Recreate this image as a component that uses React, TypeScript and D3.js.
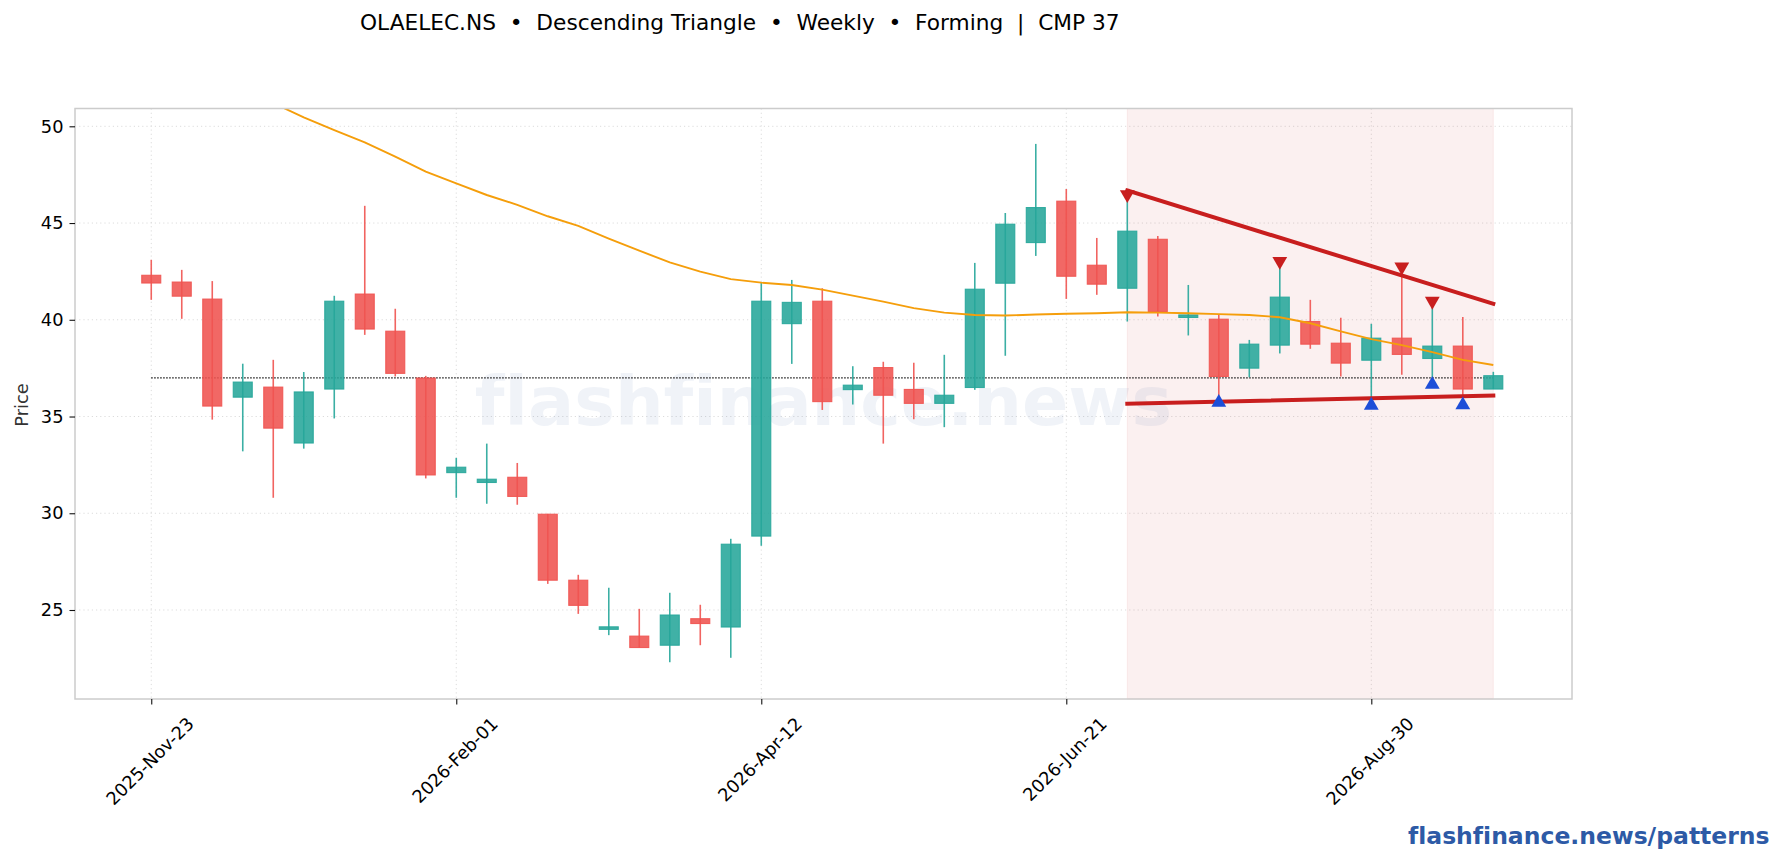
import { useEffect, useRef } from 'react';
import * as d3 from 'd3';

const title = 'OLAELEC.NS  •  Descending Triangle  •  Weekly  •  Forming  |  CMP 37';
const watermark = 'flashfinance.news';
const siteLabel = 'flashfinance.news/patterns';
const yTickValues = [25, 30, 35, 40, 45, 50];
const xTickPositions = [0, 10, 20, 30, 40];
const xTickLabels = ['2025-Nov-23', '2026-Feb-01', '2026-Apr-12', '2026-Jun-21', '2026-Aug-30'];

// weekly OHLC, one entry per bar
const opens = [42.3, 41.95, 41.07, 36.0, 36.52, 33.63, 36.42, 41.33, 39.41, 36.99, 32.1, 31.59, 31.86, 29.95, 26.54, 24.0, 23.65, 23.18, 24.55, 24.12, 28.82, 39.8, 40.96, 36.39, 37.53, 36.4, 35.68, 36.5, 41.89, 43.99, 46.13, 42.82, 41.63, 44.16, 40.12, 40.03, 37.5, 38.69, 39.91, 38.79, 37.91, 39.05, 38.0, 38.64, 36.42];
const highs = [43.1, 42.58, 42.0, 37.73, 37.93, 37.3, 41.24, 45.89, 40.57, 37.1, 32.86, 33.6, 32.6, 29.97, 26.82, 26.15, 25.06, 25.89, 25.27, 28.68, 41.9, 42.06, 41.63, 37.6, 37.83, 37.78, 38.19, 42.94, 45.52, 49.09, 46.76, 44.23, 46.4, 44.33, 41.8, 40.25, 38.96, 42.8, 41.03, 40.1, 39.79, 42.5, 40.75, 40.15, 37.31];
const lows = [41.03, 40.05, 34.84, 33.2, 30.8, 33.34, 34.9, 39.22, 37.07, 31.8, 30.8, 30.49, 30.44, 26.35, 24.8, 23.7, 23.06, 22.3, 23.18, 22.53, 28.32, 37.72, 35.34, 35.62, 33.6, 34.86, 34.45, 36.38, 38.14, 43.3, 41.08, 41.29, 39.91, 40.17, 39.19, 36.0, 37.03, 38.26, 38.5, 37.07, 35.9, 37.16, 37.0, 35.95, 36.42];
const closes = [41.9, 41.22, 35.54, 36.78, 34.4, 36.27, 40.96, 39.52, 37.23, 31.98, 32.38, 31.76, 30.87, 26.54, 25.24, 24.13, 23.06, 24.74, 24.3, 28.4, 40.96, 40.9, 35.77, 36.62, 36.1, 35.68, 36.1, 41.58, 44.94, 45.8, 42.25, 41.84, 44.58, 40.43, 40.25, 37.07, 38.74, 41.17, 38.74, 37.76, 39.05, 38.21, 38.64, 36.42, 37.11];

// moving average, bars 0-3 sit above the visible range
const maValues = [null, null, null, null, 51.2, 50.46, 49.8, 49.17, 48.43, 47.66, 47.05, 46.45, 45.94, 45.35, 44.85, 44.2, 43.57, 42.97, 42.49, 42.1, 41.92, 41.8, 41.56, 41.25, 40.94, 40.6, 40.37, 40.25, 40.22, 40.27, 40.31, 40.34, 40.39, 40.37, 40.34, 40.29, 40.25, 40.13, 39.82, 39.4, 39.0, 38.69, 38.33, 37.93, 37.66];

const cmp = 37;
const patternStart = 32;
const patternEnd = 44;
const upperTrend: [number, number][] = [[32, 46.68], [44, 40.83]];
const lowerTrend: [number, number][] = [[32, 35.66], [44, 36.09]];
const swingHighs: [number, number][] = [[32, 46.37], [37, 42.92], [41, 42.63], [42, 40.86]];
const swingLows: [number, number][] = [[35, 35.83], [40, 35.68], [42, 36.76], [43, 35.7]];

const UP = '#26a69a';
const DOWN = '#ef5350';
const TREND = '#c81e1e';
const FONT = '"DejaVu Sans", sans-serif';

const App = () => {
    const svgRef = useRef<SVGSVGElement>(null);

    useEffect(() => {
        if (!svgRef.current) return;

        const svg = d3.select(svgRef.current);
        svg.selectAll('*').remove();
        svg.attr('width', 1782).attr('height', 860);

        const left = 75, right = 1572, top = 108.5, bottom = 699;

        const x = d3.scaleLinear().domain([-2.5, 46.58]).range([left, right]);
        const y = d3.scaleLinear().domain([20.4, 50.92]).range([bottom, top]);

        svg.append('defs').append('clipPath').attr('id', 'plot')
            .append('rect')
            .attr('x', left).attr('y', top)
            .attr('width', right - left).attr('height', bottom - top);

        // Grid lines
        svg.append('g').selectAll('line').data(xTickPositions).join('line')
            .attr('x1', d => x(d)).attr('x2', d => x(d))
            .attr('y1', top).attr('y2', bottom)
            .attr('stroke', '#dcdcdc').attr('stroke-width', 1).attr('stroke-dasharray', '1.2,3');
        svg.append('g').selectAll('line').data(yTickValues).join('line')
            .attr('x1', left).attr('x2', right)
            .attr('y1', d => y(d)).attr('y2', d => y(d))
            .attr('stroke', '#dcdcdc').attr('stroke-width', 1).attr('stroke-dasharray', '1.2,3');

        // Pattern window
        svg.append('rect')
            .attr('x', x(patternStart)).attr('y', top)
            .attr('width', x(patternEnd) - x(patternStart)).attr('height', bottom - top)
            .attr('fill', '#c62828').attr('fill-opacity', 0.07)
            .attr('stroke', '#c62828').attr('stroke-opacity', 0.07);

        // Watermark
        svg.append('text')
            .attr('x', (left + right) / 2).attr('y', 425)
            .attr('text-anchor', 'middle')
            .style('font-family', FONT).style('font-weight', 'bold').style('font-size', '68.4px')
            .style('font-variant-ligatures', 'none')
            .attr('fill', '#2a5298').attr('fill-opacity', 0.07)
            .text(watermark);

        // CMP level
        svg.append('line')
            .attr('x1', x(0)).attr('x2', x(patternEnd))
            .attr('y1', y(cmp)).attr('y2', y(cmp))
            .attr('stroke', '#000').attr('stroke-width', 1.3).attr('stroke-dasharray', '1.4,1.6');

        // Candles
        const bodyWidth = 19;
        const candles = svg.append('g').selectAll('g').data(d3.range(opens.length)).join('g');
        candles.append('line')
            .attr('x1', d => x(d)).attr('x2', d => x(d))
            .attr('y1', d => y(highs[d])).attr('y2', d => y(lows[d]))
            .attr('stroke', d => (closes[d] >= opens[d] ? UP : DOWN))
            .attr('stroke-opacity', 0.9)
            .attr('stroke-width', 1.6);
        candles.append('rect')
            .attr('x', d => x(d) - bodyWidth / 2)
            .attr('width', bodyWidth)
            .attr('y', d => y(Math.max(opens[d], closes[d])))
            .attr('height', d => Math.abs(y(opens[d]) - y(closes[d])))
            .attr('fill', d => (closes[d] >= opens[d] ? UP : DOWN))
            .attr('fill-opacity', 0.88)
            .attr('stroke', d => (closes[d] >= opens[d] ? UP : DOWN))
            .attr('stroke-opacity', 0.9)
            .attr('stroke-width', 1.1);

        // Moving average
        const maLine = d3.line<number | null>()
            .defined(d => d !== null)
            .x((_, i) => x(i))
            .y(d => y(d as number));
        svg.append('path')
            .datum(maValues)
            .attr('clip-path', 'url(#plot)')
            .attr('d', maLine)
            .attr('fill', 'none')
            .attr('stroke', '#f59e0b')
            .attr('stroke-width', 1.9);

        // Trend lines
        const trendLine = d3.line<[number, number]>().x(d => x(d[0])).y(d => y(d[1]));
        [upperTrend, lowerTrend].forEach(points => {
            svg.append('path')
                .datum(points)
                .attr('d', trendLine)
                .attr('fill', 'none')
                .attr('stroke', TREND)
                .attr('stroke-width', 4)
                .attr('stroke-linecap', 'square');
        });

        // Swing markers
        const triangle = d3.symbol().type(d3.symbolTriangle).size(95)();
        svg.append('g').selectAll('path').data(swingHighs).join('path')
            .attr('d', triangle)
            .attr('transform', d => `translate(${x(d[0])},${y(d[1]) - 2}) scale(1,-1)`)
            .attr('fill', TREND);
        svg.append('g').selectAll('path').data(swingLows).join('path')
            .attr('d', triangle)
            .attr('transform', d => `translate(${x(d[0])},${y(d[1]) + 2})`)
            .attr('fill', '#1d4ed8');

        // Frame
        svg.append('rect')
            .attr('x', left).attr('y', top)
            .attr('width', right - left).attr('height', bottom - top)
            .attr('fill', 'none').attr('stroke', '#cccccc').attr('stroke-width', 1.5);

        // Axes
        const yAxis = svg.append('g')
            .attr('transform', `translate(${left},0)`)
            .call(d3.axisLeft(y).tickValues(yTickValues).tickFormat(d3.format('d')).tickSize(5.5).tickPadding(6));
        const xAxis = svg.append('g')
            .attr('transform', `translate(0,${bottom})`)
            .call(d3.axisBottom(x).tickValues(xTickPositions).tickFormat((_, i) => xTickLabels[i]).tickSize(5.5));
        [yAxis, xAxis].forEach(axis => {
            axis.select('.domain').remove();
            axis.selectAll('line').attr('stroke', '#111').attr('stroke-width', 1.1);
            axis.selectAll('text')
                .style('font-family', FONT).style('font-size', '17.8px').attr('fill', '#000');
        });

        // Rotated date labels hang from the tick: top of the rotated box stays at the same height
        xAxis.selectAll<SVGTextElement, number>('text').each(function () {
            const t = d3.select(this);
            t.attr('y', 0).attr('dy', 0).attr('text-anchor', 'middle').attr('dominant-baseline', 'middle');
            const box = this.getBBox();
            const half = (box.width + box.height) * Math.SQRT1_2 / 2;
            t.attr('transform', `translate(-1,${15 + half}) rotate(-45)`);
        });

        svg.append('text')
            .attr('transform', `translate(28,405) rotate(-90)`)
            .attr('text-anchor', 'middle')
            .style('font-family', FONT).style('font-size', '17.8px')
            .attr('fill', '#333')
            .text('Price');

        svg.append('text')
            .attr('x', 360).attr('y', 30)
            .attr('xml:space', 'preserve')
            .style('white-space', 'pre')
            .style('font-family', FONT).style('font-size', '21.7px')
            .attr('fill', '#000')
            .text(title);

        svg.append('text')
            .attr('x', 1408).attr('y', 844)
            .style('font-family', FONT).style('font-weight', 'bold').style('font-size', '23.5px')
            .style('font-variant-ligatures', 'none')
            .attr('fill', '#2d5aa6')
            .text(siteLabel);
    }, []);

    return (
        <svg ref={svgRef} style={{ position: 'absolute', left: 0, top: 0, background: '#fff' }}></svg>
    );
};

export default App;
